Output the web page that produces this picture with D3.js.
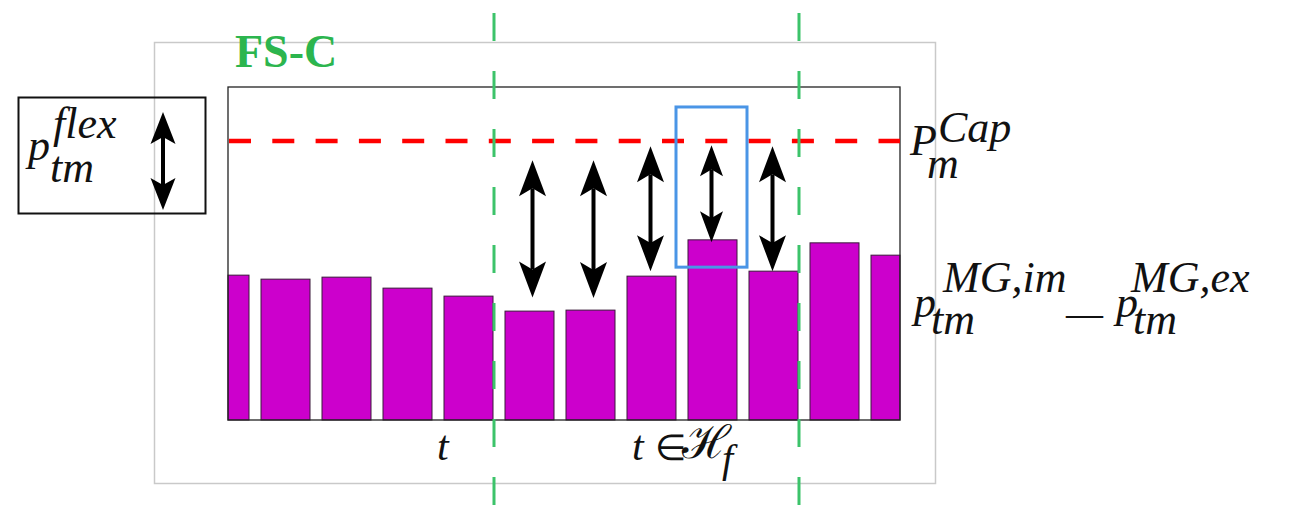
<!DOCTYPE html>
<html>
<head>
<meta charset="utf-8">
<script src="https://cdn.jsdelivr.net/npm/d3@7"></script>
<style>
  html, body { margin: 0; padding: 0; background: #ffffff; }
  svg { display: block; }
</style>
</head>
<body>
<svg id="chart" width="1294" height="526"></svg>
<script>
// Net microgrid exchange per time slot and the capacity limit
const slots = ["s1", "s2", "s3", "s4", "s5", "s6", "s7", "s8", "s9", "s10", "s11", "s12"];
const netPower = [4.35, 4.23, 4.29, 3.96, 3.72, 3.27, 3.30, 4.32, 5.41, 4.47, 5.32, 4.95];
const capacity = 8.38;

// Flexibility arrows over the horizon H_f (slot index, upper end, lower end)
const flexSlots = [5, 6, 7, 8, 9];
const flexHigh = [7.80, 7.80, 8.22, 8.25, 8.22];
const flexLow = [3.68, 3.66, 4.47, 5.34, 4.47];

// Horizon boundaries (slot index where the boundary sits) and highlighted slot
const horizonEdges = [5, 10];
const highlightSlot = 8;
const highlightRange = [4.59, 9.40];

const svg = d3.select("#chart");
const plot = { left: 228, right: 900, top: 87, bottom: 420 };

const x = d3.scaleBand().domain(d3.range(slots.length)).range([188, 932]).padding(12 / 61);
const y = d3.scaleLinear().domain([0, 10]).range([plot.bottom, plot.top]);
const bw = x.bandwidth();
const gap = x.step() - bw;

// outer frame of the panel
svg.append("rect")
  .attr("x", 154.5).attr("y", 42.5).attr("width", 781).attr("height", 441)
  .attr("fill", "none").attr("stroke", "#c9c9c9").attr("stroke-width", 1.5);

// bars, cut at the plot box edges
svg.append("g")
  .selectAll("rect").data(netPower).join("rect")
  .attr("x", (d, i) => Math.max(x(i), plot.left))
  .attr("y", d => y(d))
  .attr("width", (d, i) => Math.min(x(i) + bw, plot.right) - Math.max(x(i), plot.left))
  .attr("height", d => y(0) - y(d))
  .attr("fill", "#cc00cc")
  .attr("stroke", "#3a1a3a").attr("stroke-width", 1);

// plot box
svg.append("rect")
  .attr("x", plot.left).attr("y", plot.top)
  .attr("width", plot.right - plot.left).attr("height", plot.bottom - plot.top)
  .attr("fill", "none").attr("stroke", "#222").attr("stroke-width", 1.3);

// capacity limit
svg.append("line")
  .attr("x1", plot.left + 1).attr("x2", plot.right)
  .attr("y1", y(capacity)).attr("y2", y(capacity))
  .attr("stroke", "#ff0000").attr("stroke-width", 4.5)
  .attr("stroke-dasharray", "22,21.3");

// highlighted slot
svg.append("rect")
  .attr("x", x(highlightSlot) - 12)
  .attr("y", y(highlightRange[1]))
  .attr("width", bw + 22)
  .attr("height", y(highlightRange[0]) - y(highlightRange[1]))
  .attr("fill", "none").attr("stroke", "#4a95e6").attr("stroke-width", 3);

// double-headed arrow
function dblArrow(g, cx, y1, y2, hw, hl) {
  const notch = hl * 0.22;
  g.append("line")
    .attr("x1", cx).attr("x2", cx)
    .attr("y1", y1 + hl - notch).attr("y2", y2 - hl + notch)
    .attr("stroke", "#000").attr("stroke-width", 4);
  g.append("path")
    .attr("d", `M${cx},${y1} L${cx + hw / 2},${y1 + hl} L${cx},${y1 + hl - notch} L${cx - hw / 2},${y1 + hl} Z`)
    .attr("fill", "#000");
  g.append("path")
    .attr("d", `M${cx},${y2} L${cx + hw / 2},${y2 - hl} L${cx},${y2 - hl + notch} L${cx - hw / 2},${y2 - hl} Z`)
    .attr("fill", "#000");
}

const arrows = svg.append("g");
flexSlots.forEach((s, k) => {
  const small = s === highlightSlot;
  dblArrow(arrows, x(s) + bw / 2 + (k < 2 ? 3 : -1), y(flexHigh[k]), y(flexLow[k]),
    small ? 23 : 27, small ? 31 : 36);
});

// horizon boundaries
svg.append("g").selectAll("line").data(horizonEdges).join("line")
  .attr("x1", d => x(d) - gap + 1).attr("x2", d => x(d) - gap + 1)
  .attr("y1", 13).attr("y2", 526)
  .attr("stroke", "#3cc36a").attr("stroke-width", 3)
  .attr("stroke-dasharray", "28,30");

// panel title
svg.append("text")
  .attr("x", 235).attr("y", 67)
  .attr("font-family", "Liberation Serif")
  .attr("font-size", 46).attr("font-weight", "bold")
  .attr("fill", "#2cb54e")
  .text("FS-C");

// one math label piece
function piece(x0, y0, txt, size = 44, upright = false) {
  svg.append("text")
    .attr("x", x0).attr("y", y0)
    .attr("font-family", "Liberation Serif")
    .attr("font-size", size)
    .attr("font-style", upright ? "normal" : "italic")
    .attr("fill", "#111")
    .text(txt);
}

// legend box
svg.append("rect")
  .attr("x", 18.5).attr("y", 97.5).attr("width", 187).attr("height", 116)
  .attr("fill", "none").attr("stroke", "#111").attr("stroke-width", 2);
piece(28, 160, "p");
piece(53, 138, "flex");
piece(50, 182, "tm");
dblArrow(svg.append("g"), 163, 112, 210, 25, 32);

// capacity label
const capY = y(capacity);
piece(910, capY + 14, "P");
piece(938, capY + 1, "Cap");
piece(927, capY + 37, "m");

// net exchange label
piece(914, 317, "p");
piece(943, 292, "MG,im");
piece(931, 334, "tm");
piece(1066, 326, "\u2014", 37, true);
piece(1116, 317, "p");
piece(1131, 292, "MG,ex");
piece(1133, 334, "tm");

// time labels
piece(437, 460, "t", 42);
piece(632, 460, "t", 42);
piece(655, 460, "\u2208", 36, true);
piece(682, 458, "\u210B", 46, true);
piece(722, 472, "f", 40);
</script>
</body>
</html>
